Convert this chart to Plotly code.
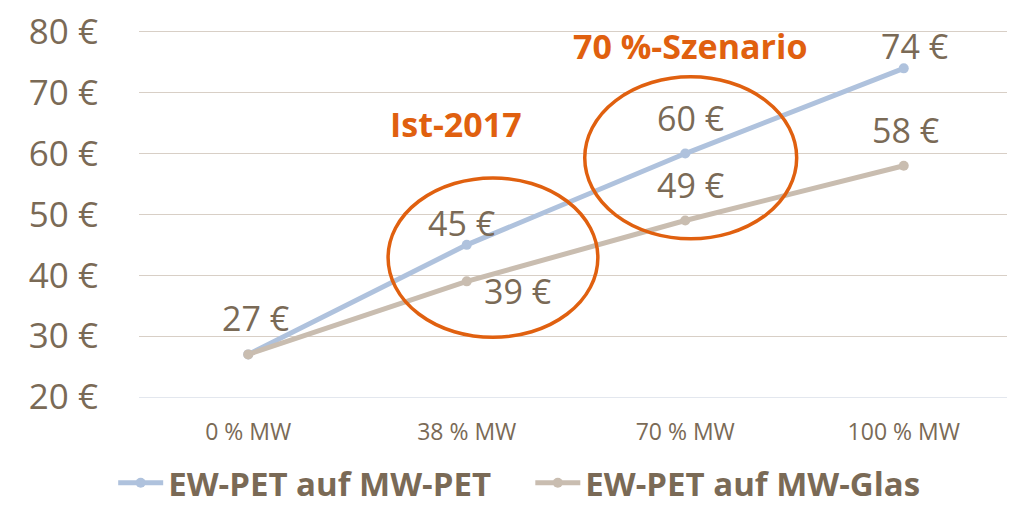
import plotly.graph_objects as go

categories = ["0 % MW", "38 % MW", "70 % MW", "100 % MW"]
series_names = ["EW-PET auf MW-PET", "EW-PET auf MW-Glas"]
pet_values = [27, 45, 60, 74]
glas_values = [27, 39, 49, 58]
y_ticks = [20, 30, 40, 50, 60, 70, 80]
y_tick_labels = [f"{v} €" for v in y_ticks]

TXT = "#7A6A56"
ORANGE = "#E0600F"
BLUE = "#AFC2DD"
TAUPE = "#C9BDB0"
FONT = "Open Sans"
NB = "\u00a0"

fig = go.Figure()
fig.add_trace(go.Scatter(x=categories, y=pet_values, name=f"<b>{series_names[0]}</b>" + NB * 4,
                         mode="lines+markers",
                         line=dict(color=BLUE, width=5), marker=dict(size=10, color=BLUE)))
fig.add_trace(go.Scatter(x=categories, y=glas_values, name=f"<b>{series_names[1]}</b>",
                         mode="lines+markers",
                         line=dict(color=TAUPE, width=5), marker=dict(size=10, color=TAUPE)))

# data labels (offsets in pixels)
pet_offsets = [(7, 36), (-5, 22), (5, 36), (11, 22)]
glas_offsets = [None, (51, -10), (5, 36), (2, 36)]
for i, v in enumerate(pet_values):
    dx, dy = pet_offsets[i]
    fig.add_annotation(x=i, y=v, text=f"{v} €", showarrow=False, xshift=dx, yshift=dy,
                       font=dict(family=FONT, size=34, color=TXT))
for i, v in enumerate(glas_values):
    if glas_offsets[i] is None:
        continue
    dx, dy = glas_offsets[i]
    fig.add_annotation(x=i, y=v, text=f"{v} €", showarrow=False, xshift=dx, yshift=dy,
                       font=dict(family=FONT, size=34, color=TXT))

# scenario labels
fig.add_annotation(x=0.95, y=64.8, text="<b>Ist-2017</b>", showarrow=False,
                   font=dict(family=FONT, size=34, color=ORANGE))
fig.add_annotation(x=2.02, y=77.7, text="<b>70 %-Szenario</b>", showarrow=False,
                   font=dict(family=FONT, size=34, color=ORANGE))

# ellipses
fig.add_shape(type="circle", xref="x", yref="y", x0=0.64, x1=1.60, y0=29.8, y1=56.0,
              line=dict(color=ORANGE, width=3.5))
fig.add_shape(type="circle", xref="x", yref="y", x0=1.54, x1=2.51, y0=46.0, y1=72.6,
              line=dict(color=ORANGE, width=3.5))

fig.update_layout(
    width=1015, height=505, autosize=False,
    margin=dict(l=131, r=10, t=22, b=116, autoexpand=False),
    plot_bgcolor="white", paper_bgcolor="white",
    font=dict(family=FONT, color=TXT),
    showlegend=True,
    legend=dict(orientation="h", x=0.435, xanchor="center", y=-0.31, yanchor="bottom",
                font=dict(family=FONT, size=33, color=TXT), itemwidth=45, tracegroupgap=0),
)
fig.update_xaxes(showgrid=False, showline=True, linecolor="#E3E7EE", ticks="",
                 tickfont=dict(family=FONT, size=23, color=TXT), ticklabelstandoff=14,
                 range=[-0.5, 3.5], automargin=False)
fig.update_yaxes(range=[20, 80.3], tickvals=y_ticks, ticktext=y_tick_labels, showgrid=True,
                 gridcolor="#D8CFC6", gridwidth=1, zeroline=False, showline=False,
                 tickfont=dict(family=FONT, size=35, color=TXT), ticklabelstandoff=40,
                 ticklabeloverflow="allow", automargin=False)

fig.write_html("out.html")
